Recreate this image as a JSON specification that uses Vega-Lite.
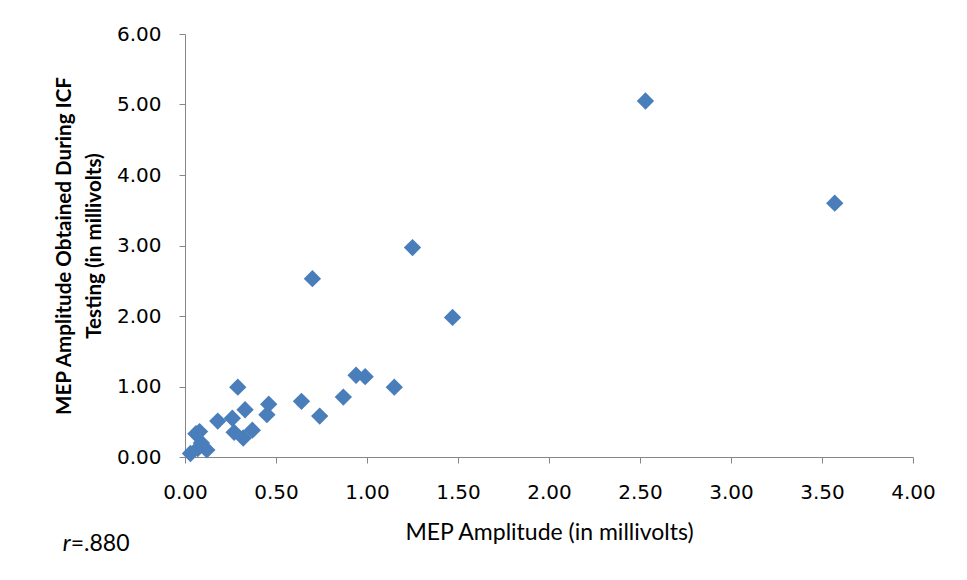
{
  "$schema": "https://vega.github.io/schema/vega-lite/v6.json",
  "autosize": "none",
  "width": 728,
  "height": 423,
  "padding": {"left": 185, "top": 34, "right": 54, "bottom": 123},
  "background": "white",
  "config": {"view": {"stroke": null}},
  "layer": [
    {
      "data": {"values": [
        {"mep": 0.03, "icf": 0.05},
        {"mep": 0.07, "icf": 0.12},
        {"mep": 0.09, "icf": 0.20},
        {"mep": 0.12, "icf": 0.10},
        {"mep": 0.06, "icf": 0.33},
        {"mep": 0.08, "icf": 0.36},
        {"mep": 0.18, "icf": 0.51},
        {"mep": 0.26, "icf": 0.55},
        {"mep": 0.27, "icf": 0.35},
        {"mep": 0.29, "icf": 0.99},
        {"mep": 0.32, "icf": 0.27},
        {"mep": 0.33, "icf": 0.67},
        {"mep": 0.37, "icf": 0.38},
        {"mep": 0.45, "icf": 0.60},
        {"mep": 0.46, "icf": 0.75},
        {"mep": 0.64, "icf": 0.79},
        {"mep": 0.70, "icf": 2.53},
        {"mep": 0.74, "icf": 0.58},
        {"mep": 0.87, "icf": 0.85},
        {"mep": 0.94, "icf": 1.16},
        {"mep": 0.99, "icf": 1.14},
        {"mep": 1.15, "icf": 0.99},
        {"mep": 1.25, "icf": 2.97},
        {"mep": 1.47, "icf": 1.98},
        {"mep": 2.53, "icf": 5.05},
        {"mep": 3.57, "icf": 3.60}
      ]},
      "mark": {"type": "point", "shape": "diamond", "filled": true, "size": 300, "color": "#4a7ebb", "opacity": 1},
      "encoding": {
        "x": {
          "field": "mep", "type": "quantitative",
          "scale": {"domain": [0, 4], "nice": false, "zero": true},
          "axis": {
            "values": [0, 0.5, 1, 1.5, 2, 2.5, 3, 3.5, 4],
            "format": ".2f", "grid": false, "labelFlush": false, "labelOverlap": false,
            "domainColor": "#868686", "tickColor": "#868686", "tickSize": 6,
            "labelFont": "DejaVu Sans", "labelFontSize": 20, "labelColor": "#000000", "labelPadding": 19,
            "title": "MEP Amplitude (in millivolts)",
            "titleFont": "Lato", "titleFontSize": 23, "titleFontWeight": "normal", "titleColor": "#000000", "titlePadding": 19
          }
        },
        "y": {
          "field": "icf", "type": "quantitative",
          "scale": {"domain": [0, 6], "nice": false},
          "axis": {
            "values": [0, 1, 2, 3, 4, 5, 6],
            "format": ".2f", "grid": false, "labelFlush": false, "labelOverlap": false,
            "domainColor": "#868686", "tickColor": "#868686", "tickSize": 6,
            "labelFont": "DejaVu Sans", "labelFontSize": 20, "labelColor": "#000000", "labelPadding": 18,
            "title": ["MEP Amplitude Obtained During ICF", "Testing (in millivolts)"],
            "titleFont": "Lato", "titleFontSize": 20.6, "titleFontWeight": "bold", "titleColor": "#000000", "titleLineHeight": 30, "titlePadding": 12
          }
        }
      }
    },
    {
      "data": {"values": [{"lx": -0.628, "ly": -1.24, "t1": "r", "t2": "=.880"}]},
      "layer": [
        {
          "mark": {"type": "text", "align": "right", "baseline": "middle", "font": "Lato", "fontSize": 23, "fontStyle": "italic", "color": "#000000"},
          "encoding": {
            "x": {"field": "lx", "type": "quantitative"},
            "y": {"field": "ly", "type": "quantitative"},
            "text": {"field": "t1"}
          }
        },
        {
          "mark": {"type": "text", "align": "left", "baseline": "middle", "font": "Lato", "fontSize": 23, "color": "#000000"},
          "encoding": {
            "x": {"field": "lx", "type": "quantitative"},
            "y": {"field": "ly", "type": "quantitative"},
            "text": {"field": "t2"}
          }
        }
      ]
    }
  ]
}
